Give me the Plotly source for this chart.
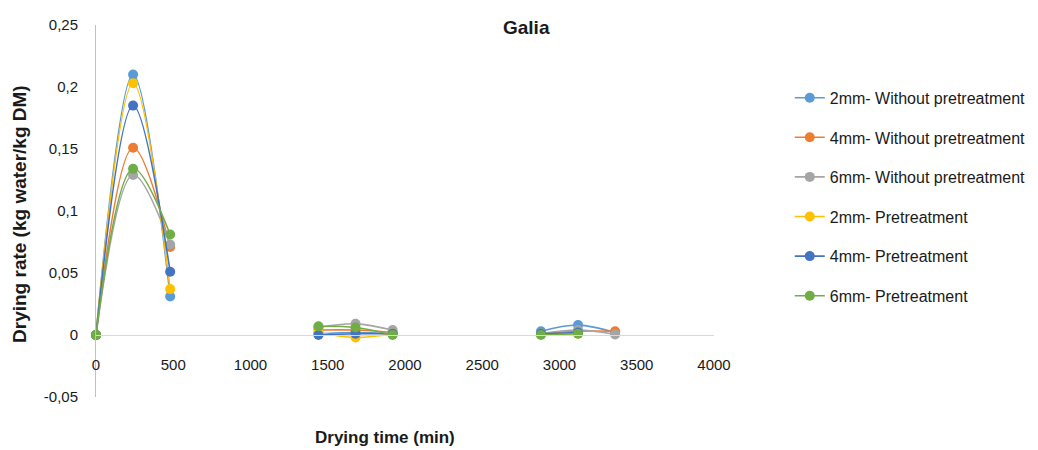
import plotly.graph_objects as go

# Drying time (min) at which each sample was weighed
times = [0, 240, 480, 1440, 1680, 1920, 2880, 3120, 3360]

# Drying rate (kg water / kg DM) per series; None = no reading
rate_2mm_without = [0, 0.210, 0.031, 0.001, 0.002, 0.001, 0.003, 0.008, 0.002]
rate_4mm_without = [0, 0.151, 0.071, 0.004, 0.004, 0.002, 0.001, 0.003, 0.003]
rate_6mm_without = [0, 0.129, 0.073, 0.006, 0.009, 0.004, 0.001, 0.004, 0.0005]
rate_2mm_pre = [0, 0.203, 0.037, 0.002, -0.002, 0.001, 0.001, 0.001, None]
rate_4mm_pre = [0, 0.185, 0.051, 0.000, 0.001, 0.001, 0.001, 0.002, None]
rate_6mm_pre = [0, 0.134, 0.081, 0.007, 0.006, 0.000, 0.000, 0.001, None]

series_names = [
    "2mm- Without pretreatment",
    "4mm- Without pretreatment",
    "6mm- Without pretreatment",
    "2mm- Pretreatment",
    "4mm- Pretreatment",
    "6mm- Pretreatment",
]
series_values = [rate_2mm_without, rate_4mm_without, rate_6mm_without,
                 rate_2mm_pre, rate_4mm_pre, rate_6mm_pre]
colors = ["#5B9BD5", "#ED7D31", "#A5A5A5", "#FFC000", "#4472C4", "#70AD47"]

x_ticks = [0, 500, 1000, 1500, 2000, 2500, 3000, 3500, 4000]
y_ticks = [-0.05, 0, 0.05, 0.1, 0.15, 0.2, 0.25]
y_tick_text = ["-0,05", "0", "0,05", "0,1", "0,15", "0,2", "0,25"]

FONT = "Liberation Sans, Arial"


def with_gaps(xs, ys, max_step=480):
    """Insert breaks between separate drying days so lines are not joined."""
    gx, gy = [], []
    prev = None
    for x, y in zip(xs, ys):
        if y is None:
            continue
        if prev is not None and x - prev > max_step:
            gx.append(None)
            gy.append(None)
        gx.append(x)
        gy.append(y)
        prev = x
    return gx, gy


fig = go.Figure()
for i, (name, vals, col) in enumerate(zip(series_names, series_values, colors)):
    gx, gy = with_gaps(times, vals)
    fig.add_trace(go.Scatter(
        x=gx, y=gy, name=name, mode="lines+markers",
        line=dict(color=col, width=1.6, shape="spline", smoothing=1.0),
        marker=dict(color=col, size=10),
        connectgaps=False, cliponaxis=False,
        legendgroup=f"g{i}",
    ))

fig.update_layout(
    width=1038, height=450,
    margin=dict(l=96, r=324, t=25, b=53, autoexpand=False),
    paper_bgcolor="white", plot_bgcolor="white",
    font=dict(family=FONT, size=14, color="#1a1a1a"),
    showlegend=True,
    legend=dict(
        x=1.1226, xanchor="left", y=0.85, yanchor="top",
        traceorder="grouped", tracegroupgap=15.8,
        font=dict(family=FONT, size=16, color="#1a1a1a"),
        bgcolor="rgba(0,0,0,0)",
    ),
    xaxis=dict(
        range=[0, 4000], tickvals=x_ticks, showgrid=False, zeroline=False,
        showline=True, linecolor="#D9D9D9", linewidth=1,
        anchor="free", position=1 / 6,
        ticks="outside", ticklen=16, tickcolor="rgba(0,0,0,0)",
        tickfont=dict(family=FONT, size=15, color="#1a1a1a"),
    ),
    yaxis=dict(
        range=[-0.05, 0.25], tickvals=y_ticks, ticktext=y_tick_text,
        showgrid=False, zeroline=False,
        showline=True, linecolor="#B4C3D6", linewidth=1,
        ticks="outside", ticklen=14, tickcolor="rgba(0,0,0,0)",
        tickfont=dict(family=FONT, size=15, color="#1a1a1a"),
    ),
    annotations=[
        dict(text="<b>Galia</b>", x=0.697, y=0.992, xref="paper", yref="paper",
             xanchor="center", yanchor="middle", showarrow=False,
             font=dict(family=FONT, size=19, color="#1a1a1a")),
        dict(text="<b>Drying time (min)</b>", x=0.467, y=-0.108,
             xref="paper", yref="paper", xanchor="center", yanchor="middle",
             showarrow=False, font=dict(family=FONT, size=17, color="#1a1a1a")),
        dict(text="<b>Drying rate (kg water/kg DM)</b>", x=-0.123, y=0.492,
             xref="paper", yref="paper", xanchor="center", yanchor="middle",
             textangle=-90, showarrow=False,
             font=dict(family=FONT, size=19, color="#1a1a1a")),
    ],
)

fig.write_html("out.html")
